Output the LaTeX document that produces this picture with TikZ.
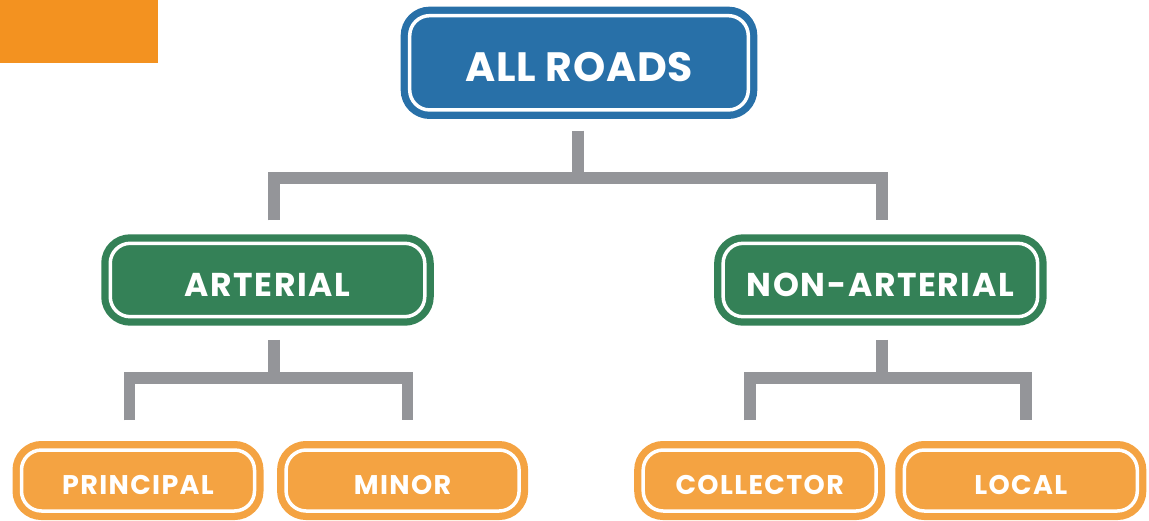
\documentclass[tikz,border=0pt]{standalone}
\usepackage{fontspec}
\setsansfont{Poppins}
\usepackage{xcolor}
\usepackage{tikz}
\usetikzlibrary{positioning}

\definecolor{roadblue}{HTML}{2870A8}
\definecolor{roadgreen}{HTML}{348157}
\definecolor{roadorange}{HTML}{F4A342}
\definecolor{cornerorange}{HTML}{F39220}
\definecolor{linkgray}{HTML}{949599}

\begin{document}
\begin{tikzpicture}[x=1pt,y=-1pt,
  tag/.style={fill=#1, draw=white, line width=3.5pt, rounded corners=20pt,
    preaction={draw=#1, line width=18pt}, text=white, inner sep=0pt, text depth=0pt},
  link/.style={draw=linkgray, line width=11.7pt}]
  \useasboundingbox (0,0) rectangle (1149,520);
  \fill[cornerorange] (0,0) rectangle (158,63);

  % levels
  \node[tag=roadblue, minimum width=338.6pt, minimum height=94.3pt, text height=38pt,
    font=\sffamily\bfseries\fontsize{41}{45}\selectfont\addfontfeatures{LetterSpace=2}] (roads) at (579,62.8) {ALL ROADS};
  \foreach \name/\x/\txt in {art/267.5/ARTERIAL, nonart/880.4/NON-ARTERIAL}
    \node[tag=roadgreen, minimum width=314.5pt, minimum height=73.4pt, text height=32pt,
      font=\sffamily\bfseries\fontsize{33}{37}\selectfont\addfontfeatures{LetterSpace=5}] (\name) at (\x,280) {\txt};
  \foreach \name/\x/\txt in {principal/138/PRINCIPAL, minor/402.6/MINOR,
                             collector/759.7/COLLECTOR, local/1020.8/LOCAL}
    \node[tag=roadorange, minimum width=233pt, minimum height=61pt, text height=27pt,
      font=\sffamily\bfseries\fontsize{27}{31}\selectfont\addfontfeatures{LetterSpace=5}] (\name) at (\x,480.5) {\txt};

  % connectors
  \draw[link] ([xshift=-1pt,yshift=-19pt]roads.south) -- ++(0,51);
  \draw[link] ([xshift=6.5pt,yshift=21.3pt]art.north) |- ([xshift=1.6pt,yshift=63.3pt]nonart.north) -- ++(0,42);
  \draw[link] ([xshift=6.5pt,yshift=-21.3pt]art.south) -- ++(0,42);
  \draw[link] ([xshift=-8.5pt,yshift=28pt]principal.north) |- ([xshift=4.9pt,yshift=70pt]minor.north) -- ++(0,42);
  \draw[link] ([xshift=1.6pt,yshift=-21.3pt]nonart.south) -- ++(0,42);
  \draw[link] ([xshift=-9.7pt,yshift=28pt]collector.north) |- ([xshift=5.2pt,yshift=70pt]local.north) -- ++(0,42);
\end{tikzpicture}
\end{document}
